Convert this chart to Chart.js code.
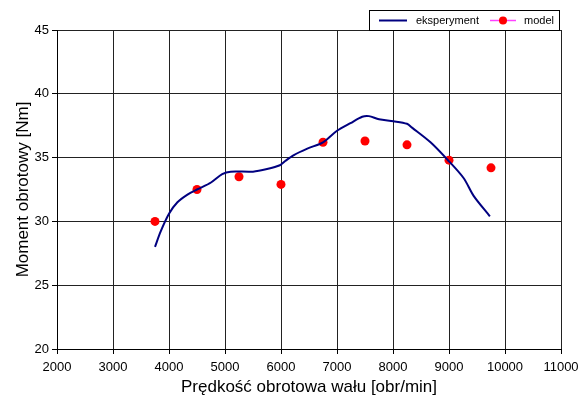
<!DOCTYPE html>
<html lang="pl">
<head>
  <meta charset="UTF-8" />
  <title>Moment obrotowy</title>
  <style>
    body { margin: 0; background: #fff; }
  </style>
</head>
<body>
  <canvas id="myChart" width="586" height="398"></canvas>

  <script src="https://cdn.jsdelivr.net/npm/chart.js"></script>
  <script>
    // dane
    const expRpm = [3750, 3850, 4000, 4150, 4330, 4500, 4750, 4950, 5100, 5500, 5750, 5980, 6080, 6230, 6470, 6750, 7000, 7240, 7450, 7570, 7750, 8010, 8250, 8340, 8670, 8970, 9260, 9440, 9730];
    const expTorque = [28.0, 29.2, 30.6, 31.5, 32.1, 32.5, 33.05, 33.7, 33.9, 33.9, 34.1, 34.4, 34.75, 35.2, 35.7, 36.2, 37.1, 37.7, 38.2, 38.25, 38.0, 37.85, 37.65, 37.35, 36.2, 34.85, 33.4, 32.0, 30.4];
    const modelRpm = [3750, 4500, 5250, 6000, 6750, 7500, 8250, 9000, 9750];
    const modelTorque = [30.0, 32.5, 33.5, 32.9, 36.2, 36.3, 36.0, 34.8, 34.2];
    const xTicks = [2000, 3000, 4000, 5000, 6000, 7000, 8000, 9000, 10000, 11000];
    const yTicks = [20, 25, 30, 35, 40, 45];
    const seriesNames = ['eksperyment', 'model'];

    const FONT = 'Liberation Sans, Arial, sans-serif';

    // legenda w ramce jak w oryginale
    const boxLegend = {
      id: 'boxLegend',
      afterDraw(chart) {
        const ctx = chart.ctx;
        ctx.save();
        ctx.fillStyle = '#fff';
        ctx.fillRect(369.5, 10.5, 190, 20);
        ctx.strokeStyle = '#000';
        ctx.lineWidth = 1;
        ctx.strokeRect(369.5, 10.5, 190, 20);

        ctx.lineWidth = 2;
        ctx.strokeStyle = '#000080';
        ctx.beginPath();
        ctx.moveTo(379, 20.5);
        ctx.lineTo(407, 20.5);
        ctx.stroke();

        ctx.strokeStyle = '#ff40ff';
        ctx.lineWidth = 1.5;
        ctx.beginPath();
        ctx.moveTo(490, 20.5);
        ctx.lineTo(516, 20.5);
        ctx.stroke();
        ctx.fillStyle = '#ff0000';
        ctx.beginPath();
        ctx.arc(503, 20.5, 4, 0, Math.PI * 2);
        ctx.fill();

        ctx.fillStyle = '#000';
        ctx.font = '11px ' + FONT;
        ctx.textBaseline = 'middle';
        ctx.fillText(seriesNames[0], 416, 20.5);
        ctx.fillText(seriesNames[1], 524, 20.5);
        ctx.restore();
      }
    };

    const data = {
      datasets: [
        {
          label: seriesNames[0],
          data: expRpm.map((x, i) => ({ x: x, y: expTorque[i] })),
          showLine: true,
          borderColor: '#000080',
          borderWidth: 2,
          pointRadius: 0,
          tension: 0.3
        },
        {
          label: seriesNames[1],
          data: modelRpm.map((x, i) => ({ x: x, y: modelTorque[i] })),
          showLine: false,
          backgroundColor: '#ff0000',
          borderColor: '#ff0000',
          pointRadius: 4.5,
          pointBorderWidth: 0
        }
      ]
    };

    var context = document.getElementById('myChart').getContext('2d');
    var myChart = new Chart(context, {
      type: 'scatter',
      data: data,
      plugins: [boxLegend],
      options: {
        responsive: false,
        animation: false,
        layout: { padding: { left: 0, right: 25, top: 30, bottom: 0 } },
        plugins: {
          legend: { display: false },
          tooltip: { enabled: false }
        },
        scales: {
          x: {
            type: 'linear',
            min: 2000,
            max: 11000,
            afterBuildTicks: (scale) => { scale.ticks = xTicks.map(v => ({ value: v })); },
            afterFit: (scale) => { scale.height = 49; },
            ticks: {
              color: '#000',
              font: { family: FONT, size: 13 },
              padding: 6,
              maxRotation: 0,
              callback: (v) => String(v)
            },
            grid: { color: '#222', lineWidth: 1, tickLength: 5, tickColor: '#000' },
            border: { color: '#000', width: 1 },
            title: {
              display: true,
              text: 'Prędkość obrotowa wału [obr/min]',
              color: '#000',
              font: { family: FONT, size: 17 },
              padding: { top: 0, bottom: 0 }
            }
          },
          y: {
            min: 20,
            max: 45,
            afterBuildTicks: (scale) => { scale.ticks = yTicks.map(v => ({ value: v })); },
            afterFit: (scale) => { scale.width = 57; },
            ticks: {
              color: '#000',
              font: { family: FONT, size: 13 },
              padding: 3,
              callback: (v) => String(v)
            },
            grid: { color: '#222', lineWidth: 1, tickLength: 5, tickColor: '#000' },
            border: { color: '#000', width: 1 },
            title: {
              display: true,
              text: 'Moment obrotowy [Nm]',
              color: '#000',
              font: { family: FONT, size: 17 },
              padding: { top: 13, bottom: 0 }
            }
          }
        }
      }
    });
  </script>
</body>
</html>
